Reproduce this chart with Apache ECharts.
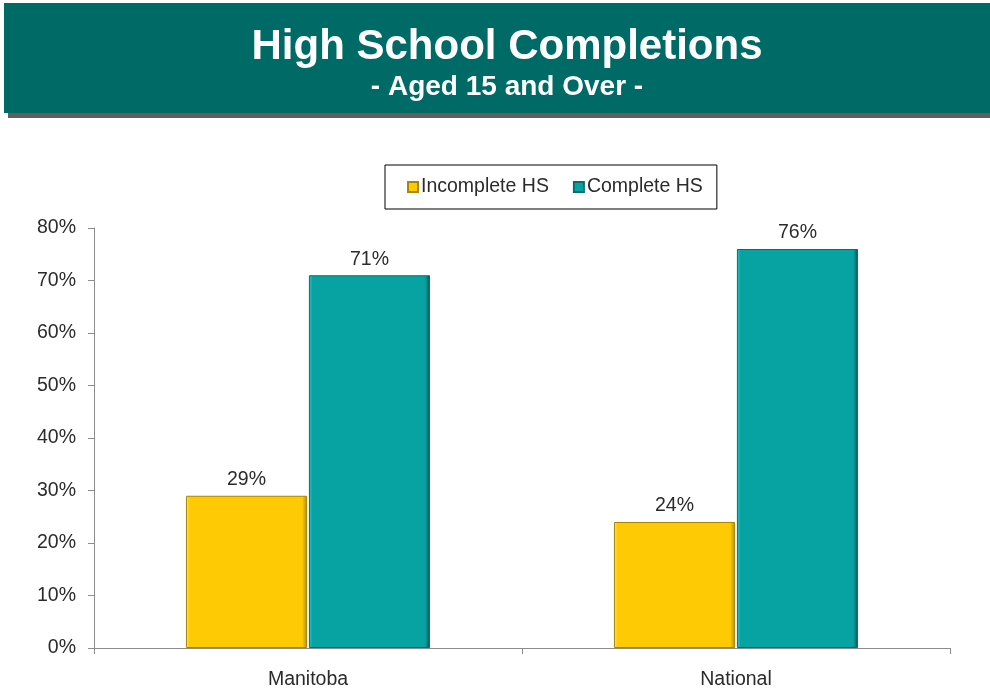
<!DOCTYPE html>
<html>
<head>
<meta charset="utf-8">
<script src="https://cdn.jsdelivr.net/npm/echarts@6/dist/echarts.min.js"></script>
<style>
  html, body { margin: 0; padding: 0; background: #ffffff; }
  #chart { width: 990px; height: 690px; }
</style>
</head>
<body>
<div id="chart"></div>
<script>
// Share of population aged 15+ by high school completion
const categories = ['Manitoba', 'National'];
const seriesNames = ['Incomplete HS', 'Complete HS'];
const incompleteHS = [29, 24];
const completeHS = [71, 76];
const yTicks = [0, 10, 20, 30, 40, 50, 60, 70, 80];

const FONT = '"Liberation Sans", Arial, sans-serif';
const TEXT = '#2b2b2b';

const chart = echarts.init(document.getElementById('chart'));

// soft bevel: light left edge, flat face, dark right edge
function bevel(base, light, dark) {
  return new echarts.graphic.LinearGradient(0, 0, 1, 0, [
    { offset: 0, color: light },
    { offset: 0.03, color: base },
    { offset: 0.96, color: base },
    { offset: 1, color: dark }
  ]);
}

chart.setOption({
  animation: false,
  backgroundColor: '#ffffff',
  graphic: [
    { type: 'rect', shape: { x: 8, y: 10, width: 982, height: 108 }, style: { fill: '#5f5f5f' }, z: 0 },
    { type: 'rect', shape: { x: 4, y: 3, width: 986, height: 110 }, style: { fill: '#006a66' }, z: 1 },
    { type: 'text', x: 507, y: 47, style: { text: 'High School Completions', fill: '#ffffff', font: 'bold 42px ' + FONT, textAlign: 'center', textVerticalAlign: 'middle' }, z: 2 },
    { type: 'text', x: 507, y: 87, style: { text: '- Aged 15 and Over -', fill: '#ffffff', font: 'bold 28px ' + FONT, textAlign: 'center', textVerticalAlign: 'middle' }, z: 2 }
  ],
  legend: {
    data: seriesNames,
    left: 385,
    top: 165,
    padding: [12, 14, 12, 22],
    itemWidth: 10,
    itemHeight: 10,
    itemGap: 24,
    borderColor: '#000000',
    borderWidth: 1,
    icon: 'rect',
    textStyle: { fontFamily: FONT, fontSize: 19.5, color: TEXT, padding: [0, 0, 0, -2] }
  },
  grid: { left: 94, right: 40, top: 228, bottom: 40, containLabel: false },
  xAxis: {
    type: 'category',
    data: categories,
    axisLine: { lineStyle: { color: '#8c8c8c' } },
    axisTick: { show: true, length: 6, lineStyle: { color: '#8c8c8c' } },
    axisLabel: { fontFamily: FONT, fontSize: 19.5, color: TEXT, margin: 22 }
  },
  yAxis: {
    type: 'value',
    min: yTicks[0],
    max: yTicks[yTicks.length - 1],
    interval: 10,
    axisLine: { show: true, lineStyle: { color: '#8c8c8c' } },
    axisTick: { show: true, length: 6, lineStyle: { color: '#8c8c8c' } },
    splitLine: { show: false },
    axisLabel: { fontFamily: FONT, fontSize: 19.5, color: TEXT, margin: 18, formatter: '{value}%' }
  },
  series: [
    {
      name: seriesNames[0],
      type: 'bar',
      data: incompleteHS,
      barWidth: '28.3%',
      barGap: '1.5%',
      itemStyle: { color: bevel('#fdca03', '#ffe066', '#b08a00'), borderColor: '#a88600', borderWidth: 1 },
      label: { show: true, position: 'top', distance: 6, formatter: '{c}%', fontFamily: FONT, fontSize: 19.5, color: TEXT }
    },
    {
      name: seriesNames[1],
      type: 'bar',
      data: completeHS,
      barWidth: '28.3%',
      itemStyle: { color: bevel('#06a3a2', '#33c4c2', '#044f4f'), borderColor: '#066e6d', borderWidth: 1 },
      label: { show: true, position: 'top', distance: 6, formatter: '{c}%', fontFamily: FONT, fontSize: 19.5, color: TEXT }
    }
  ]
});
</script>
</body>
</html>
